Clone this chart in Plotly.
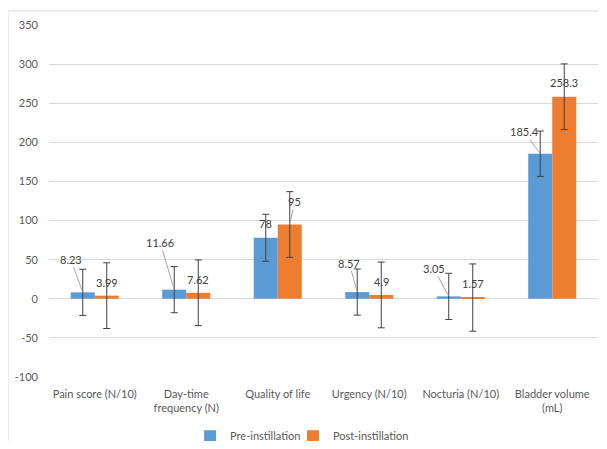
import plotly.graph_objects as go

categories = ["Pain score (N/10)", "Day-time<br>frequency (N)", "Quality of life",
              "Urgency (N/10)", "Nocturia (N/10)", "Bladder volume<br>(mL)"]
pre_values = [8.23, 11.66, 78, 8.57, 3.05, 185.4]
post_values = [3.99, 7.62, 95, 4.9, 1.57, 258.3]
pre_err = [29.5, 29.5, 30, 29.5, 29.5, 29]
post_err = [42, 42, 42, 42, 43, 42]
pre_labels = ["8.23", "11.66", "78", "8.57", "3.05", "185.4"]
post_labels = ["3.99", "7.62", "95", "4.9", "1.57", "258.3"]
y_ticks = [-100, -50, 0, 50, 100, 150, 200, 250, 300, 350]
y_ticktext = ["-100", "-50", "0", "50", "100", "150", "200", "250", "300", "350"]

# label offsets (pixels) and leader-line flags (style only)
pre_off = [(-12, -33, True), (-14, -47, True), (0, -14, False), (-8, -29, True), (-15, -28, True), (-16, -22, True)]
post_off = [(0, -13, False), (0, -13, False), (5, -23, True), (0, -13, False), (0, -14, False), (0, -14, False)]

BLUE = "#5B9BD5"
ORANGE = "#ED7D31"
FONT = "Lato"
half = 0.131

fig = go.Figure()
fig.add_trace(go.Bar(
    x=list(range(len(categories))), y=pre_values, name="Pre-instillation", legend="legend",
    marker=dict(color=BLUE, line=dict(width=0)),
    error_y=dict(type="data", array=pre_err, visible=True, color="#404040", thickness=1, width=3.5),
))
fig.add_trace(go.Bar(
    x=list(range(len(categories))), y=post_values, name="Post-instillation", legend="legend2",
    marker=dict(color=ORANGE, line=dict(width=0)),
    error_y=dict(type="data", array=post_err, visible=True, color="#404040", thickness=1, width=3.5),
))

annotations = []
for i in range(len(categories)):
    for vals, labs, offs, sgn in ((pre_values, pre_labels, pre_off, -1), (post_values, post_labels, post_off, 1)):
        dx, dy, leader = offs[i]
        annotations.append(dict(
            x=i + sgn * half, y=vals[i], xref="x", yref="y",
            text=labs[i], showarrow=True, arrowhead=0, arrowwidth=1,
            arrowcolor="#A6A6A6" if leader else "rgba(0,0,0,0)",
            ax=dx, ay=dy, axref="pixel", ayref="pixel", standoff=1,
            font=dict(family=FONT, size=11, color="#404040"),
        ))

legend_style = dict(orientation="h", xanchor="left", y=-0.168, yanchor="middle",
                    font=dict(family=FONT, size=11, color="#595959"), itemwidth=30,
                    bgcolor="rgba(0,0,0,0)")

fig.update_layout(
    width=599, height=433,
    margin=dict(l=41, r=9, t=17, b=64, autoexpand=False),
    paper_bgcolor="white", plot_bgcolor="white",
    barmode="group", bargap=0.475, bargroupgap=0,
    font=dict(family=FONT, size=11, color="#595959"),
    showlegend=True,
    legend=dict(x=0.257, **legend_style),
    legend2=dict(x=0.4444, **legend_style),
    annotations=annotations,
    shapes=[dict(type="rect", xref="paper", yref="paper", x0=-0.0747, x1=1.2, y0=-0.5, y1=1.0398,
                 line=dict(color="#D9D9D9", width=1), fillcolor="rgba(0,0,0,0)", layer="below")],
)
fig.update_xaxes(
    tickmode="array", tickvals=list(range(len(categories))), ticktext=categories,
    range=[-0.5, len(categories) - 0.5], showgrid=False, showline=False, ticks="",
    tickfont=dict(family=FONT, size=11, color="#595959"), automargin=False, ticklabelstandoff=9,
)
fig.update_yaxes(
    range=[-100, 350], tickmode="array", tickvals=y_ticks, ticktext=y_ticktext,
    showgrid=True, gridcolor="#D9D9D9",
    gridwidth=1, zeroline=True, zerolinecolor="#D9D9D9", zerolinewidth=1, showline=False, ticks="",
    tickfont=dict(family=FONT, size=11, color="#595959"), ticklabelstandoff=10, automargin=False,
)

fig.write_html("out.html")
